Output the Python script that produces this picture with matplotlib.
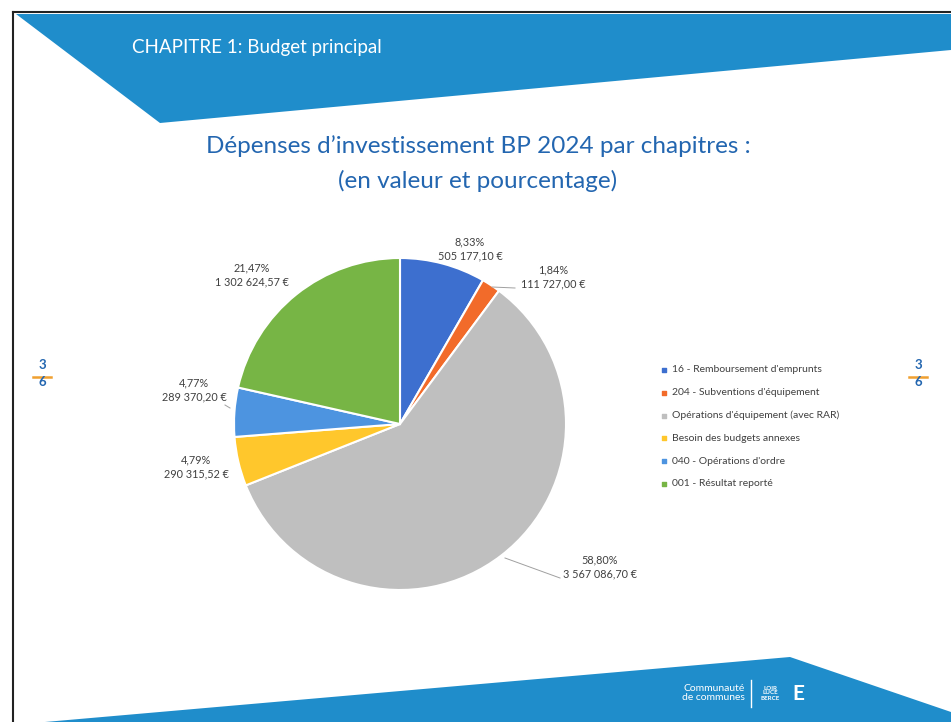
import matplotlib.pyplot as plt
from matplotlib.patches import Polygon

# data
chapitres = ["16 - Remboursement d'emprunts", "204 - Subventions d'équipement",
             "Opérations d'équipement (avec RAR)", "Besoin des budgets annexes",
             "040 - Opérations d'ordre", "001 - Résultat reporté"]
montants = [505177.10, 111727.00, 3567086.70, 290315.52, 289370.20, 1302624.57]
pourcentages = ["8,33%", "1,84%", "58,80%", "4,79%", "4,77%", "21,47%"]
montants_txt = ["505 177,10 €", "111 727,00 €", "3 567 086,70 €",
                "290 315,52 €", "289 370,20 €", "1 302 624,57 €"]

couleurs = ['#3d6fcf', '#f26b2a', '#bfbfbf', '#ffc72c', '#4d94e0', '#77b545']
# label centres in pixels
label_pos = [(470, 249), (553, 277), (600, 567), (196, 467), (194, 390), (252, 275)]

W, H = 951, 722
plt.rcParams['font.family'] = ['Lato', 'DejaVu Sans']
fig = plt.figure(figsize=(W / 100, H / 100), dpi=100)

# pie
cx, cy, r = 400, 424, 166
ax = fig.add_axes([(cx - r) / W, (H - cy - r) / H, 2 * r / W, 2 * r / H])
wedges, _ = ax.pie(montants, colors=couleurs, startangle=90, counterclock=False,
                   wedgeprops=dict(edgecolor='white', linewidth=1.5))
ax.set_xlim(-1, 1)
ax.set_ylim(-1, 1)
ax.axis('off')

# overlay axes in pixel coordinates
bg = fig.add_axes([0, 0, 1, 1], zorder=5)
bg.set_xlim(0, W)
bg.set_ylim(H, 0)
bg.axis('off')
bg.patch.set_alpha(0)

blue = '#1f8dcb'
bg.add_patch(Polygon([(16, 14), (W, 14), (W, 50), (160, 123)], closed=True,
                     facecolor=blue, edgecolor='none'))
bg.add_patch(Polygon([(45, H), (790, 657), (W, 712), (W, H)], closed=True,
                     facecolor=blue, edgecolor='none'))
bg.plot([13, W], [12, 12], color='#222222', lw=1.5)
bg.plot([13, 13], [12, H], color='#222222', lw=1.5)

bg.text(132, 48, "CHAPITRE 1: Budget principal", color='white', fontsize=13.5,
        va='center', ha='left')
bg.text(478, 146, "Dépenses d’investissement BP 2024 par chapitres :",
        color='#2366b0', fontsize=17.5, ha='center', va='center')
bg.text(478, 181, "(en valeur et pourcentage)", color='#2366b0', fontsize=17.5,
        ha='center', va='center')

# page markers
for x in (42, 918):
    bg.text(x, 365, "3", color='#2366b0', fontsize=9.5, ha='center', va='center',
            fontweight='bold')
    bg.plot([x - 9, x + 9], [377, 377], color='#f0a030', lw=1.8)
    bg.text(x, 382, "6", color='#2366b0', fontsize=9.5, ha='center', va='center',
            fontweight='bold')

# footer logo
bg.text(745, 693, "Communauté\nde communes", color='white', fontsize=7.5,
        ha='right', va='center', linespacing=1.0)
bg.plot([751, 751], [680, 707], color='white', lw=1)
bg.text(770, 693, "LOIR\nLUCE\nBERCE", color='white', fontsize=4.5,
        fontweight='bold', ha='center', va='center', linespacing=1.0)
bg.text(798, 694, "E", color='white', fontsize=15, fontweight='bold',
        ha='center', va='center')

for (x, y), p, m in zip(label_pos, pourcentages, montants_txt):
    bg.text(x, y, p + "\n" + m, color='#404040', fontsize=7.8, ha='center',
            va='center', linespacing=1.3)

# leader lines
bg.plot([492, 515], [287, 288], color='#a0a0a0', lw=0.7)
bg.plot([505, 560], [558, 578], color='#a0a0a0', lw=0.7)
bg.plot([225, 230], [405, 408], color='#a0a0a0', lw=0.7)

# legend
for i, (nom, c) in enumerate(zip(chapitres, couleurs)):
    y = 370 + i * 22.8
    bg.scatter([664], [y], marker='s', s=9, color=c)
    bg.text(672, y, nom, color='#404040', fontsize=7.5, va='center', ha='left')

fig.savefig('out.png', dpi=100)
